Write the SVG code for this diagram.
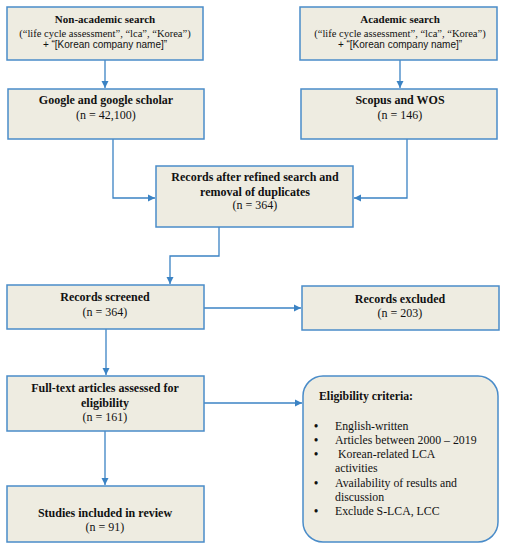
<svg xmlns="http://www.w3.org/2000/svg" width="508" height="550" viewBox="0 0 508 550">
<style>
.box{fill:#EEECE1;stroke:#4A8CC9;stroke-width:1.5}
.t{font-family:"Liberation Serif","Times New Roman",serif;font-size:12px;fill:#111;text-anchor:middle}
.b{font-weight:bold}
.h{font-size:11px}
.q{font-size:10.5px}
.s{font-family:"Liberation Sans",Arial,sans-serif;font-size:10px}
.l{font-family:"Liberation Serif","Times New Roman",serif;font-size:11.8px;fill:#111}
.c{fill:none;stroke:#3B83C4;stroke-width:1.3}
</style>
<defs>
<marker id="ah" markerWidth="8" markerHeight="8" refX="7" refY="4" orient="auto" markerUnits="userSpaceOnUse">
<path d="M0,0.5 L7,4 L0,7.5 Z" fill="#3B83C4"/>
</marker>
</defs>
<rect width="508" height="550" fill="#fff"/>
<g id="connectors">
<path class="c" d="M105,60 V88" marker-end="url(#ah)"/>
<path class="c" d="M400,60 V88" marker-end="url(#ah)"/>
<path class="c" d="M113,139 V198 H155" marker-end="url(#ah)"/>
<path class="c" d="M407,139 V198 H354" marker-end="url(#ah)"/>
<path class="c" d="M219,227 V256 H170 V284" marker-end="url(#ah)"/>
<path class="c" d="M204,308 H301" marker-end="url(#ah)"/>
<path class="c" d="M106,329 V375" marker-end="url(#ah)"/>
<path class="c" d="M204,403 H302" marker-end="url(#ah)"/>
<path class="c" d="M105,431 V485" marker-end="url(#ah)"/>
</g>
<g id="n1">
<rect class="box" x="7" y="7" width="196" height="53"/>
<text class="t b h" x="105" y="23">Non-academic search</text>
<text class="t q" x="105" y="37">(“life cycle assessment”, “lca”, “Korea”)</text>
<text class="t s" x="105" y="48">+  “[Korean company name]”</text>
</g>
<g id="n2">
<rect class="box" x="300" y="7" width="197" height="53"/>
<text class="t b h" x="400" y="23">Academic search</text>
<text class="t q" x="400" y="37">(“life cycle assessment”, “lca”, “Korea”)</text>
<text class="t s" x="400" y="48">+  “[Korean company name]”</text>
</g>
<g id="n3">
<rect class="box" x="8" y="89" width="196" height="50"/>
<text class="t b" x="106" y="104">Google and google scholar</text>
<text class="t" x="106" y="119">(n = 42,100)</text>
</g>
<g id="n4">
<rect class="box" x="301" y="89" width="196" height="50"/>
<text class="t b" x="400" y="104">Scopus and WOS</text>
<text class="t" x="400" y="119">(n = 146)</text>
</g>
<g id="n5">
<rect class="box" x="156" y="166" width="197" height="61"/>
<text class="t b" x="255" y="181">Records after refined search and</text>
<text class="t b" x="255" y="196">removal of duplicates</text>
<text class="t" x="255" y="209">(n = 364)</text>
</g>
<g id="n6">
<rect class="box" x="7" y="285" width="197" height="44"/>
<text class="t b" x="105" y="301">Records screened</text>
<text class="t" x="105" y="316">(n = 364)</text>
</g>
<g id="n7">
<rect class="box" x="302" y="286" width="197" height="44"/>
<text class="t b" x="400" y="303">Records excluded</text>
<text class="t" x="400" y="317">(n = 203)</text>
</g>
<g id="n8">
<rect class="box" x="7" y="376" width="197" height="55"/>
<text class="t b" x="105" y="392">Full-text articles assessed for</text>
<text class="t b" x="105" y="407">eligibility</text>
<text class="t" x="105" y="421">(n = 161)</text>
</g>
<g id="n9">
<rect class="box" x="7" y="486" width="197" height="56"/>
<text class="t b" x="105" y="517">Studies included in review</text>
<text class="t" x="105" y="531">(n = 91)</text>
</g>
<g id="n10">
<rect class="box" x="303" y="376" width="195" height="166" rx="20" ry="20"/>
<text class="l b" x="319" y="400">Eligibility criteria:</text>
<text class="l b" x="314" y="430">•</text><text class="l" x="335" y="430">English-written</text>
<text class="l b" x="314" y="444">•</text><text class="l" x="335" y="444">Articles between 2000 – 2019</text>
<text class="l b" x="314" y="458">•</text><text class="l" x="338" y="458">Korean-related LCA</text>
<text class="l" x="335" y="472">activities</text>
<text class="l b" x="314" y="487">•</text><text class="l" x="335" y="487">Availability of results and</text>
<text class="l" x="335" y="501">discussion</text>
<text class="l b" x="314" y="515">•</text><text class="l" x="335" y="515">Exclude S-LCA, LCC</text>
</g>
</svg>
